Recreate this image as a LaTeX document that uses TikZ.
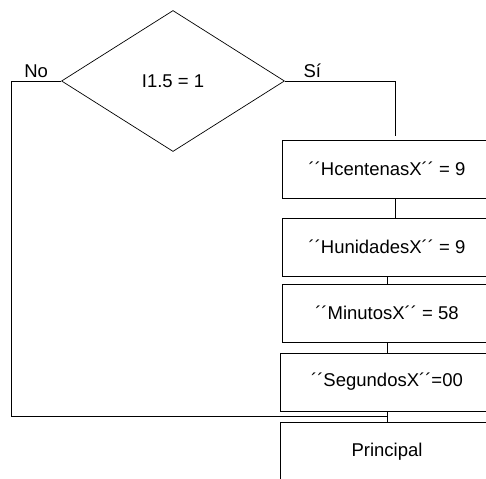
\documentclass[tikz,border=0pt]{standalone}
\usepackage{fontspec}
\setmainfont{Liberation Sans}
\usetikzlibrary{shapes.geometric}

\tikzset{
    decision/.style={diamond, draw, inner sep=0pt, minimum width=223pt, minimum height=141pt},
    block/.style={rectangle, draw, inner sep=0pt, minimum width=210pt, minimum height=58pt},
    flow/.style={draw, line width=0.7pt}
}

\begin{document}
\begin{tikzpicture}[x=1pt, y=-1pt, line width=0.7pt, font=\fontsize{18.5}{22}\selectfont]
    % Fix the page size
    \useasboundingbox (0,0) rectangle (486,478);

    % Decision on input I1.5
    \node[decision] (test) at (173,81) {I1.5 = 1};

    % Assignments on the true branch
    \node[block] (hcent) at (387,169) {´´HcentenasX´´ = 9};
    \node[block] (hunid) at (387,247) {´´HunidadesX´´ = 9};
    \node[block] (minut) at (387,313) {´´MinutosX´´ = 58};
    \node[block, minimum width=214pt] (segun) at (387,382) {´´SegundosX´´=00};
    \node[block, minimum width=214pt, minimum height=80pt] (princ) at (387,462) {};
    \node (princtext) at (387,452) {Principal};

    % Turning points of the two branches
    \coordinate (sicorner) at (395,81);
    \coordinate (nocorner) at (11,81);
    \coordinate (nobottom) at (11,416);
    \coordinate (join) at (387,416);

    % Draw the branches
    \draw[flow] (test.east) -- node[pos=0.25, above, inner sep=3pt] {Sí} (sicorner) -- ([xshift=8pt, yshift=4pt]hcent.north);
    \draw[flow] (test.west) -- node[above, inner sep=3pt] {No} (nocorner) -- (nobottom) -- (join);

    % Draw the links between the blocks
    \draw[flow] ([xshift=8pt]hcent.south) -- ([xshift=8pt]hunid.north);
    \draw[flow] (hunid.south) -- (minut.north);
    \draw[flow] (minut.south) -- (segun.north);
    \draw[flow] (segun.south) -- (princ.north);
\end{tikzpicture}
\end{document}
